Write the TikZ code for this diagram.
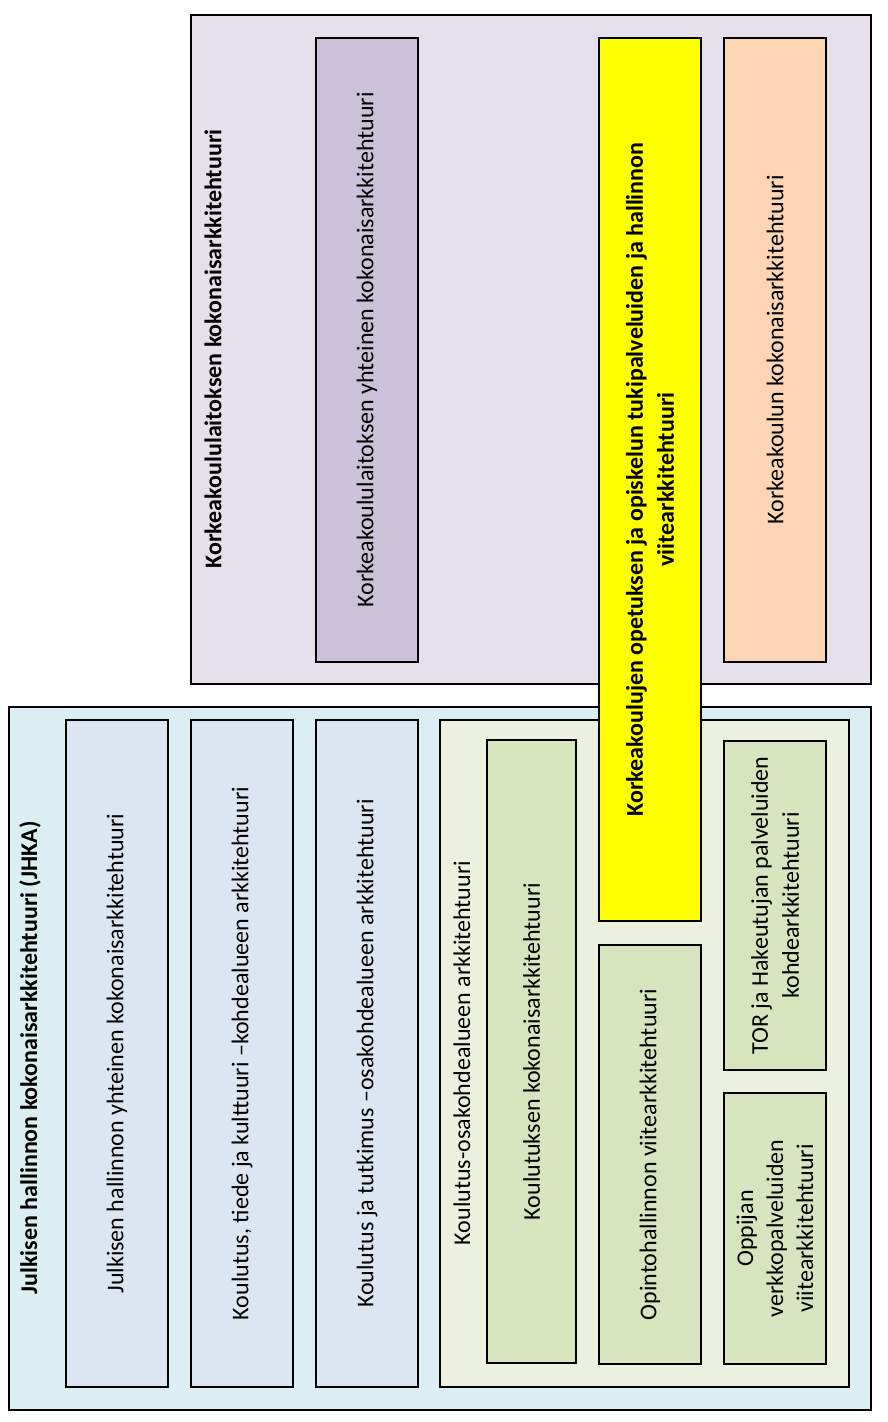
\documentclass[tikz,border=0pt]{standalone}
\usepackage{fontspec}
\setmainfont{Carlito}
\usepackage{tikz}
\usetikzlibrary{positioning}

\definecolor{hkframe}{HTML}{E6E0EC}
\definecolor{hklilac}{HTML}{CCC1DA}
\definecolor{hkpeach}{HTML}{FCD5B5}
\definecolor{jhframe}{HTML}{DBEEF4}
\definecolor{jhblue}{HTML}{DCE6F2}
\definecolor{kuframe}{HTML}{EBF1DE}
\definecolor{kugreen}{HTML}{D7E4BD}
\definecolor{viiteyellow}{HTML}{FFFF00}

\begin{document}
\begin{tikzpicture}[
  x=1pt,y=1pt,
  frame/.style={rectangle,draw,line width=1.5pt,fill=#1,inner sep=0pt},
  archbox/.style={rectangle,draw,line width=1.5pt,fill=#1,rotate=90,inner sep=2pt,align=center,
    font=\fontsize{24}{31}\selectfont},
  title/.style={rotate=90,inner sep=0pt,font=\fontsize{24}{31}\selectfont\bfseries},
  subtitle/.style={rotate=90,inner sep=0pt,font=\fontsize{24}{31}\selectfont},
]
\useasboundingbox (0,0) rectangle (888,-1422);

% Julkisen hallinnon kokonaisarkkitehtuuri
\node[frame=jhframe,minimum width=862,minimum height=703] (jhka) at (440,-1058.5) {};
\node[title] (jhkatitle) at (30,-1058) {Julkisen hallinnon kokonaisarkkitehtuuri (JHKA)};

\node[archbox=jhblue,minimum width=667,minimum height=102] (yhteinen) at (117,-1053.5)
  {Julkisen hallinnon yhteinen kokonaisarkkitehtuuri};
\node[archbox=jhblue,minimum width=667,minimum height=102] (ktk) at (242,-1053.5)
  {Koulutus, tiede ja kulttuuri –kohdealueen arkkitehtuuri};
\node[archbox=jhblue,minimum width=667,minimum height=102] (kjt) at (367,-1053.5)
  {Koulutus ja tutkimus –osakohdealueen arkkitehtuuri};

% Koulutus-osakohdealue
\node[frame=kuframe,minimum width=409,minimum height=667] (kosa) at (644.5,-1053.5) {};
\node[subtitle] (kosatitle) at (462,-1053) {Koulutus-osakohdealueen arkkitehtuuri};

\node[archbox=kugreen,minimum width=623,minimum height=89] (koulutus) at (531.5,-1051.5)
  {Koulutuksen kokonaisarkkitehtuuri};
\node[archbox=kugreen,minimum width=419,minimum height=102] (opinto) at (650,-1154.5)
  {Opintohallinnon viitearkkitehtuuri};
\node[archbox=kugreen,minimum width=329,minimum height=102] (tor) at (775,-905.5)
  {TOR ja Hakeutujan palveluiden\\kohdearkkitehtuuri};
\node[archbox=kugreen,minimum width=271,minimum height=102,font=\fontsize{24}{30}\selectfont] (oppija) at (775,-1228.5)
  {Oppijan\\verkkopalveluiden\\viitearkkitehtuuri};

% Korkeakoululaitoksen kokonaisarkkitehtuuri
\node[frame=hkframe,minimum width=680,minimum height=669] (kkla) at (531,-349.5) {};
\node[title] (kklatitle) at (213,-349) {Korkeakoululaitoksen kokonaisarkkitehtuuri};

\node[archbox=hklilac,minimum width=624,minimum height=102] (kkyhteinen) at (367,-350)
  {Korkeakoululaitoksen yhteinen kokonaisarkkitehtuuri};
\node[archbox=hkpeach,minimum width=624,minimum height=102] (korkeakoulu) at (775,-350)
  {Korkeakoulun kokonaisarkkitehtuuri};

% viitearkkitehtuuri across both
\node[archbox=viiteyellow,minimum width=883,minimum height=102,font=\fontsize{24}{31}\selectfont\bfseries] (viite) at (650,-479.5)
  {Korkeakoulujen opetuksen ja opiskelun tukipalveluiden ja hallinnon\\viitearkkitehtuuri};

\end{tikzpicture}
\end{document}
